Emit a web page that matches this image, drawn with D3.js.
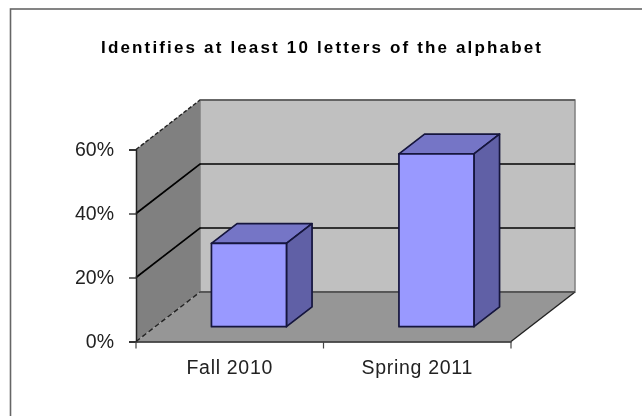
<!DOCTYPE html>
<html>
<head>
<meta charset="utf-8">
<script src="https://cdn.jsdelivr.net/npm/d3@7"></script>
<style>
  html, body { margin: 0; padding: 0; background: #fff; overflow: hidden; }
  text { font-family: "Liberation Sans", Arial, sans-serif; }
</style>
</head>
<body>
<div id="chart"></div>
<script>
// chart data
let categories = ['Fall 2010', 'Spring 2011'];
let values = [26, 54];
let yTicks = [0, 20, 40, 60];
let title = 'Identifies at least 10 letters of the alphabet';

let width = 642, height = 416;
let labelFont = 19.5;

let root = d3.select('#chart')
	.append('svg')
		.attr('width', width)
		.attr('height', height)
		.style('display', 'block');

// the reference is a slightly soft screenshot
root.append('defs')
	.append('filter')
		.attr('id', 'soft')
		.attr('x', 0).attr('y', 0).attr('width', 1).attr('height', 1)
	.append('feGaussianBlur')
		.attr('stdDeviation', 0.4);

let svg = root.append('g').attr('filter', 'url(#soft)');

svg.append('rect')
	.attr('width', width)
	.attr('height', height)
	.attr('fill', 'white');

// chart frame, right and bottom edges fall outside the crop
svg.append('rect')
	.attr('x', 10.5)
	.attr('y', 9)
	.attr('width', 660)
	.attr('height', 440)
	.attr('fill', 'white')
	.attr('stroke', '#666')
	.attr('stroke-width', 1.6);

svg.append('text')
	.attr('x', 321)
	.attr('y', 53)
	.attr('text-anchor', 'middle')
	.attr('font-size', 17)
	.attr('font-weight', 'bold')
	.attr('fill', '#000')
	.attr('textLength', 440)
	.text(title);

// scales: x along the floor front edge, y up the front axis, z goes into the depth
let x = d3.scaleBand().domain(categories).range([136, 511]);
let y = d3.scaleLinear().domain([0, 60]).range([341.5, 149.5]);
let z = d3.scaleLinear().domain([0, 1]).range([0, 1]);
let depthX = 64, depthY = -49.5;

// project a point (px along x, value, depth 0..1)
function pt(px, v, d) {
	return [px + z(d) * depthX, y(v) + z(d) * depthY];
}
function poly(points) {
	return points.map(p => p.join(',')).join(' ');
}
function edge(a, b, color, w, dash) {
	svg.append('line')
		.attr('x1', a[0]).attr('y1', a[1])
		.attr('x2', b[0]).attr('y2', b[1])
		.attr('stroke', color)
		.attr('stroke-width', w)
		.attr('stroke-dasharray', dash);
}

let x0 = x.range()[0], x1 = x.range()[1];
let yMax = y.domain()[1];

// back wall
svg.append('polygon')
	.attr('points', poly([pt(x0, 0, 1), pt(x1, 0, 1), pt(x1, yMax, 1), pt(x0, yMax, 1)]))
	.attr('fill', '#c0c0c0')
	.attr('stroke', '#808080')
	.attr('stroke-width', 1.5);

// side wall
svg.append('polygon')
	.attr('points', poly([pt(x0, 0, 0), pt(x0, 0, 1), pt(x0, yMax, 1), pt(x0, yMax, 0)]))
	.attr('fill', '#808080');

// floor
svg.append('polygon')
	.attr('points', poly([pt(x0, 0, 0), pt(x1, 0, 0), pt(x1, 0, 1), pt(x0, 0, 1)]))
	.attr('fill', '#969696');

// gridlines, wrapped round side wall and back wall
let grid = svg.append('g').attr('fill', 'none').attr('stroke', '#000').attr('stroke-width', 1.7);
yTicks.filter(t => t > 0 && t < yMax).forEach(t => {
	grid.append('polyline')
		.attr('points', poly([pt(x0, t, 0), pt(x0, t, 1), pt(x1, t, 1)]));
});

// top and floor edges of the walls
edge(pt(x0, yMax, 0), pt(x0, yMax, 1), '#222', 1.4, '4,2');
edge(pt(x0, yMax, 1), pt(x1, yMax, 1), '#555', 1.6);
edge(pt(x0, 0, 0), pt(x0, 0, 1), '#222', 1.4, '5,3');
edge(pt(x1, 0, 0), pt(x1, 0, 1), '#222', 1.4);
edge(pt(x0, 0, 1), pt(x1, 0, 1), '#444', 1.4);

// bars: 150% gap, middle 40% of the depth
let barW = x.bandwidth() / 2.5;
let zFront = 0.3, zBack = 0.7;
let bars = svg.append('g')
	.selectAll('g')
	.data(categories.map((c, i) => ({c: c, v: values[i]})))
	.enter()
	.append('g')
		.attr('stroke', '#14143c')
		.attr('stroke-width', 1.7)
		.attr('stroke-linejoin', 'round');

bars.append('polygon') // top
	.attr('fill', '#7575c6')
	.attr('points', d => {
		let l = x(d.c) + (x.bandwidth() - barW) / 2, r = l + barW;
		return poly([pt(l, d.v, zFront), pt(r, d.v, zFront), pt(r, d.v, zBack), pt(l, d.v, zBack)]);
	});
bars.append('polygon') // side
	.attr('fill', '#6060a6')
	.attr('points', d => {
		let r = x(d.c) + (x.bandwidth() + barW) / 2;
		return poly([pt(r, 0, zFront), pt(r, 0, zBack), pt(r, d.v, zBack), pt(r, d.v, zFront)]);
	});
bars.append('polygon') // front
	.attr('fill', '#9999ff')
	.attr('points', d => {
		let l = x(d.c) + (x.bandwidth() - barW) / 2, r = l + barW;
		return poly([pt(l, 0, zFront), pt(r, 0, zFront), pt(r, d.v, zFront), pt(l, d.v, zFront)]);
	});

// y axis
let yAxis = svg.append('g')
	.attr('transform', 'translate(' + x0 + ',0)')
	.call(d3.axisLeft(y).tickValues(yTicks).tickFormat(d => d + '%').tickSize(7).tickPadding(15));
yAxis.selectAll('text').attr('font-size', labelFont).attr('fill', '#222').style('font-family', '"Liberation Sans", Arial, sans-serif');
yAxis.selectAll('line').attr('stroke', '#222').attr('stroke-width', 1.3).attr('x2', -7);
yAxis.select('.domain').attr('stroke', '#222').attr('stroke-width', 1.5);

// x axis
let xAxis = svg.append('g')
	.attr('transform', 'translate(0,' + y(0) + ')')
	.call(d3.axisBottom(x).tickSize(0).tickPadding(19));
xAxis.selectAll('text').attr('font-size', labelFont).attr('fill', '#222').style('letter-spacing', '0.7px').style('font-family', '"Liberation Sans", Arial, sans-serif');
xAxis.select('.domain').attr('stroke', '#222').attr('stroke-width', 1.5);

// category separator ticks sit between the bands
xAxis.selectAll('.sep')
	.data([x0, x0 + x.bandwidth(), x1])
	.enter()
	.append('line')
		.attr('class', 'sep')
		.attr('x1', d => d)
		.attr('x2', d => d)
		.attr('y1', 0)
		.attr('y2', 7)
		.attr('stroke', '#444')
		.attr('stroke-width', 1.2);
</script>
</body>
</html>
